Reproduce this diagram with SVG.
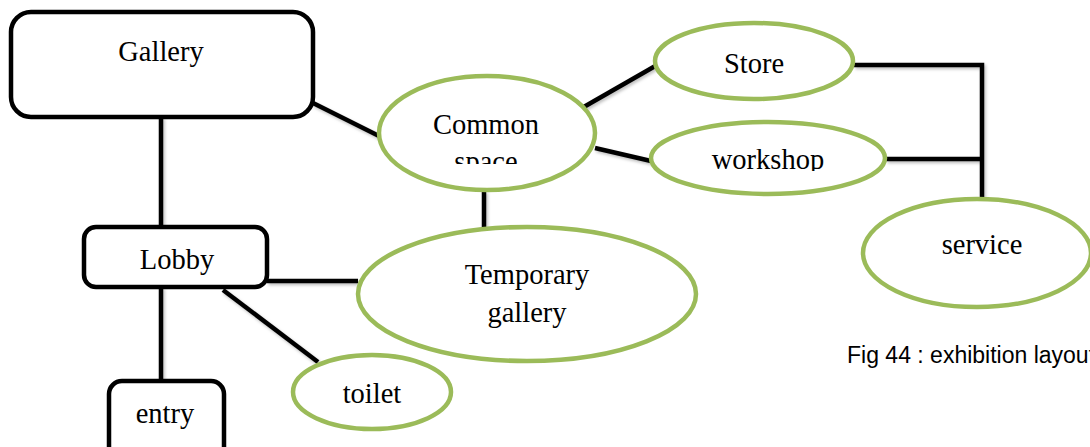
<svg xmlns="http://www.w3.org/2000/svg" width="1090" height="447" viewBox="0 0 1090 447">
  <defs>
    <style>
      .box { fill: #ffffff; stroke: #000000; stroke-width: 4.5; }
      .oval { fill: #ffffff; stroke: #9bbb59; stroke-width: 4.5; }
      .link { stroke: #000000; stroke-width: 4.5; fill: none; stroke-linecap: butt; }
      .lbl { font-family: "Liberation Serif", "Times New Roman", serif; font-size: 28.5px; fill: #000000; text-anchor: middle; }
      .cap { font-family: "Liberation Sans", Arial, sans-serif; font-size: 23px; fill: #000000; }
    </style>
    <filter id="soft" x="-10%" y="-10%" width="120%" height="130%">
      <feDropShadow dx="1.5" dy="2" stdDeviation="1.5" flood-color="#000000" flood-opacity="0.25"/>
    </filter>
    <clipPath id="clipCommon"><rect x="400" y="90" width="180" height="74"/></clipPath>
    <clipPath id="clipWorkshop"><rect x="680" y="130" width="180" height="41"/></clipPath>
  </defs>

  <!-- connectors -->
  <g id="connectors" filter="url(#soft)">
    <line class="link" x1="161" y1="117" x2="161" y2="228"/>
    <line class="link" x1="313" y1="103" x2="379" y2="136"/>
    <line class="link" x1="484" y1="191" x2="484" y2="228"/>
    <line class="link" x1="582" y1="108" x2="657" y2="65"/>
    <line class="link" x1="595" y1="148" x2="651" y2="161"/>
    <polyline class="link" points="854,65 982,65 982,199"/>
    <line class="link" x1="886" y1="159" x2="982" y2="159"/>
    <line class="link" x1="267" y1="281" x2="358" y2="281"/>
    <line class="link" x1="223" y1="290" x2="318" y2="362"/>
    <line class="link" x1="161" y1="287" x2="161" y2="381"/>
  </g>

  <!-- Gallery -->
  <g id="gallery">
    <rect class="box" x="11" y="12" width="302" height="105" rx="20"/>
    <text class="lbl" x="161" y="61">Gallery</text>
  </g>

  <!-- Common space -->
  <g id="common-space">
    <ellipse class="oval" cx="487" cy="133" rx="108" ry="57"/>
    <text class="lbl" x="486" y="134" clip-path="url(#clipCommon)">Common<tspan x="486" dy="37">space</tspan></text>
  </g>

  <!-- Store -->
  <g id="store">
    <ellipse class="oval" cx="754" cy="61" rx="99" ry="38"/>
    <text class="lbl" x="754" y="73">Store</text>
  </g>

  <!-- workshop -->
  <g id="workshop">
    <ellipse class="oval" cx="768" cy="158" rx="117" ry="36"/>
    <text class="lbl" x="768" y="169" clip-path="url(#clipWorkshop)">workshop</text>
  </g>

  <!-- service -->
  <g id="service">
    <ellipse class="oval" cx="977" cy="253" rx="114" ry="54"/>
    <text class="lbl" x="982" y="254">service</text>
  </g>

  <!-- Lobby -->
  <g id="lobby">
    <rect class="box" x="84" y="227" width="183" height="60" rx="12"/>
    <text class="lbl" x="177" y="269">Lobby</text>
  </g>

  <!-- Temporary gallery -->
  <g id="temporary-gallery">
    <ellipse class="oval" cx="527" cy="294" rx="169" ry="67"/>
    <text class="lbl" x="527" y="284">Temporary<tspan x="527" dy="38">gallery</tspan></text>
  </g>

  <!-- toilet -->
  <g id="toilet">
    <ellipse class="oval" cx="372" cy="392" rx="79" ry="37"/>
    <text class="lbl" x="372" y="403">toilet</text>
  </g>

  <!-- entry -->
  <g id="entry">
    <rect class="box" x="109" y="381" width="115" height="90" rx="13"/>
    <text class="lbl" x="165" y="423">entry</text>
  </g>

  <!-- caption -->
  <text class="cap" x="847" y="363">Fig 44 : exhibition layout</text>
</svg>
